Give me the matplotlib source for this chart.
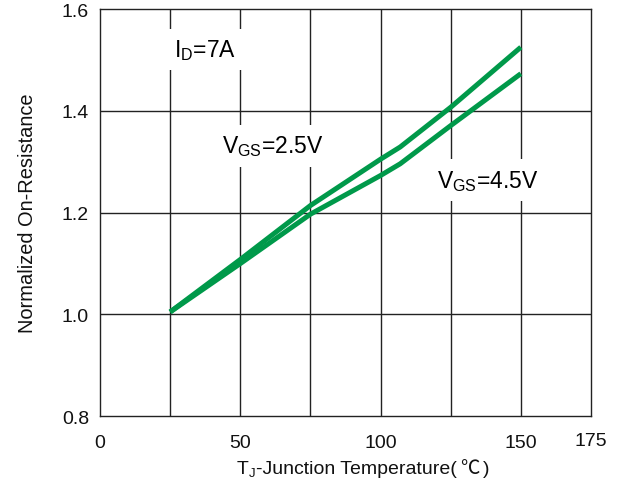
import matplotlib
matplotlib.use("Agg")
import matplotlib.pyplot as plt
from matplotlib.transforms import offset_copy

# Junction temperature (deg C) and normalized on-resistance curves
temp_c = [25, 50, 75, 100, 107, 125, 150]
rds_vgs_2v5 = [1.005, 1.108, 1.214, 1.305, 1.329, 1.407, 1.525]
rds_vgs_4v5 = [1.005, 1.100, 1.197, 1.273, 1.296, 1.371, 1.473]

x_ticks = [0, 50, 100, 150, 175]
x_grid = [25, 50, 75, 100, 125, 150]
y_ticks = [0.8, 1.0, 1.2, 1.4, 1.6]

plt.rcParams["font.family"] = ["Liberation Sans", "DejaVu Sans"]
plt.rcParams["mathtext.fontset"] = "custom"
plt.rcParams["mathtext.rm"] = "Liberation Sans"
plt.rcParams["mathtext.default"] = "regular"

fig = plt.figure(figsize=(6.25, 4.81), dpi=100)
ax = fig.add_axes([0.16, 0.1324, 0.7856, 0.8468])

ax.set_xlim(0, 175)
ax.set_ylim(0.8, 1.6)

grid_color = "#222222"
for gx in x_grid:
    ax.axvline(gx, color=grid_color, lw=1.0, zorder=1)
for gy in y_ticks[1:-1]:
    ax.axhline(gy, color=grid_color, lw=1.0, zorder=1)

green = "#00994A"
ax.plot(temp_c, rds_vgs_2v5, color=green, lw=3.6, solid_capstyle="butt", zorder=3)
ax.plot(temp_c, rds_vgs_4v5, color=green, lw=3.6, solid_capstyle="butt", zorder=3)

for sp in ax.spines.values():
    sp.set_color("#222222")
    sp.set_linewidth(1.0)

ax.set_xticks(x_ticks)
ax.set_xticklabels([str(t) for t in x_ticks])
ax.set_yticks(y_ticks)
ax.set_yticklabels([f"{t:.1f}" for t in y_ticks])
ax.tick_params(axis="both", length=0, labelsize=14, colors="#111111")
ax.tick_params(axis="x", pad=12.4)
ax.tick_params(axis="y", pad=8)
# the last temperature label sits slightly higher
last = ax.get_xticklabels()[-1]
last.set_transform(offset_copy(last.get_transform(), fig=fig, x=0, y=2.0, units="dots"))

ax.set_ylabel("Normalized On-Resistance", fontsize=14.4, labelpad=18, color="#111111")

# x-axis title with a subscript J, built from pieces so the degree sign
# can come from a CJK font
y_base = 1 - 474 / 481
ink = "#111111"
t_main = fig.text(237 / 625, y_base, "T", fontsize=14, va="baseline", color=ink)
t_sub = ax.annotate("J", xy=(1, y_base), xycoords=(t_main, "figure fraction"),
                    xytext=(0.3, -2.5), textcoords="offset points",
                    fontsize=9.5, va="baseline", color=ink, annotation_clip=False)
t_rest = ax.annotate("-Junction Temperature(", xy=(1, y_base),
                     xycoords=(t_sub, "figure fraction"), fontsize=14,
                     va="baseline", color=ink, annotation_clip=False)
t_deg = ax.annotate("℃", xy=(1, y_base), xycoords=(t_rest, "figure fraction"),
                    xytext=(2.5, 0), textcoords="offset points",
                    fontsize=14, va="baseline", color=ink,
                    family=["Noto Sans CJK SC"], annotation_clip=False)
ax.annotate(")", xy=(1, y_base), xycoords=(t_deg, "figure fraction"),
            xytext=(2.0, 0), textcoords="offset points",
            fontsize=14, va="baseline", color=ink, annotation_clip=False)

box = dict(facecolor="white", edgecolor="none", pad=6)
ax.text(37.5, 1.52, "I$_{D}$=7A", fontsize=16.5, ha="center", va="center",
        bbox=box, zorder=2)
ax.text(61.6, 1.331, "V$_{GS}$=2.5V", fontsize=16.5, ha="center", va="center",
        bbox=box, zorder=2)
ax.text(138.3, 1.264, "V$_{GS}$=4.5V", fontsize=16.5, ha="center", va="center",
        bbox=box, zorder=2)

fig.savefig("out.png", dpi=100)
